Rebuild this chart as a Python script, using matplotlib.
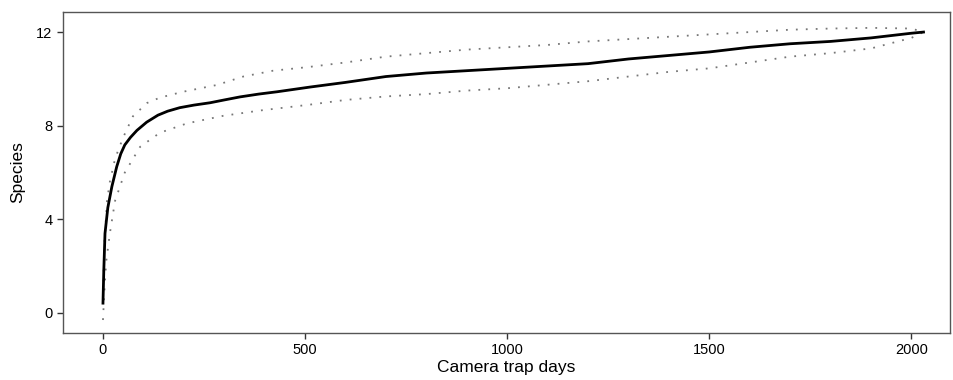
import numpy as np
import matplotlib.pyplot as plt

plt.rcParams['font.family'] = ['Liberation Sans', 'DejaVu Sans']

# species accumulation curve
days_mean = [0, 2, 5, 12, 22, 34, 44, 54, 68, 84, 108, 136, 160, 190, 225, 265, 300, 339, 385,
             431, 512, 600, 700, 800, 900, 1000, 1100, 1200, 1300, 1400, 1500, 1600, 1700,
             1800, 1900, 2000, 2030]
species_mean = [0.42, 1.8, 3.4, 4.5, 5.4, 6.25, 6.8, 7.18, 7.5, 7.8, 8.15, 8.45, 8.62, 8.77,
                8.88, 8.98, 9.1, 9.23, 9.35, 9.45, 9.65, 9.85, 10.1, 10.25, 10.35, 10.45,
                10.55, 10.65, 10.85, 11.0, 11.15, 11.35, 11.5, 11.6, 11.75, 11.95, 12.0]

days_upper = [0, 3, 10, 17, 30, 50, 74, 109, 141, 198, 282, 347, 421, 505, 600, 700, 800, 900,
              1000, 1100, 1200, 1300, 1400, 1500, 1600, 1700, 1800, 1900, 2000, 2030]
species_upper = [0.5, 2.8, 4.8, 5.6, 6.6, 7.5, 8.4, 8.97, 9.2, 9.45, 9.74, 10.1, 10.35, 10.5,
                 10.7, 10.95, 11.1, 11.25, 11.35, 11.45, 11.6, 11.7, 11.8, 11.9, 12.0, 12.1,
                 12.15, 12.18, 12.15, 12.0]

days_lower = [0, 3, 8, 17, 30, 54, 92, 141, 208, 297, 389, 512, 600, 700, 800, 900, 1000,
              1100, 1200, 1300, 1400, 1500, 1600, 1700, 1800, 1900, 2000, 2030]
species_lower = [-0.3, 0.8, 2.2, 3.4, 4.8, 6.0, 7.1, 7.7, 8.1, 8.42, 8.65, 8.9, 9.1,
                 9.25, 9.35, 9.5, 9.6, 9.75, 9.9, 10.1, 10.3, 10.45, 10.7, 10.95, 11.1, 11.3,
                 11.75, 12.0]

fig = plt.figure(figsize=(9.54, 3.8), dpi=100)
ax = fig.add_axes([0.066, 0.124, 0.93, 0.844])

ax.plot(days_upper, species_upper, color="#777777", lw=1.3, ls=(0, (1, 4.5)))
ax.plot(days_lower, species_lower, color="#777777", lw=1.3, ls=(0, (1, 4.5)))
ax.plot(days_mean, species_mean, color="black", lw=2)

ax.set_xlim(-99, 2096)
ax.set_ylim(-0.85, 12.85)
ax.set_xticks([0, 500, 1000, 1500, 2000])
ax.set_yticks([0, 4, 8, 12])

for s in ax.spines.values():
    s.set_color("#555555")
    s.set_linewidth(1)

ax.tick_params(labelsize=10.5, length=4, width=1, color="#333333", labelcolor="black")
ax.set_xlabel("Camera trap days", fontsize=12.5, labelpad=2)
ax.set_ylabel("Species", fontsize=12.5, labelpad=8)

fig.savefig("out.png", dpi=100)
